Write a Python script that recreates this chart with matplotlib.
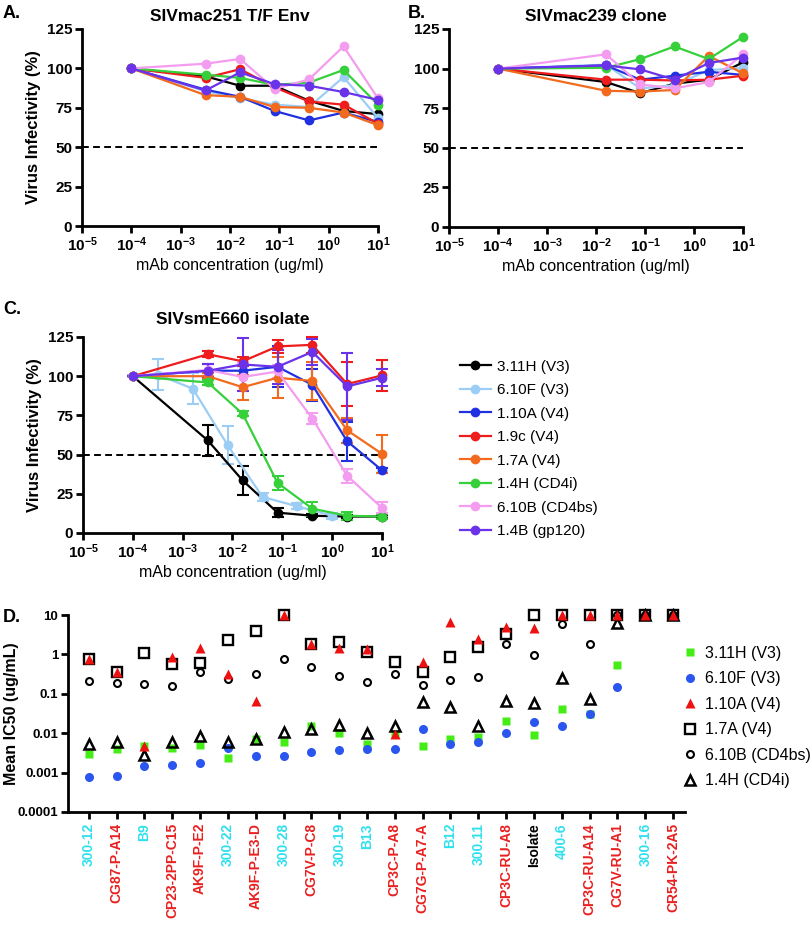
import numpy as np
import matplotlib
matplotlib.use('Agg')
import matplotlib.pyplot as plt
from matplotlib.lines import Line2D
from matplotlib.ticker import NullLocator

plt.rcParams['font.family'] = ['Liberation Sans', 'DejaVu Sans']
plt.rcParams['mathtext.fontset'] = 'custom'
plt.rcParams['mathtext.rm'] = 'Liberation Sans:bold'
plt.rcParams['mathtext.default'] = 'rm'

# ---------------- data: panels A-C ----------------
mabs = ['3.11H (V3)', '6.10F (V3)', '1.10A (V4)', '1.9c (V4)', '1.7A (V4)',
        '1.4H (CD4i)', '6.10B (CD4bs)', '1.4B (gp120)']
mab_colors = ['#000000', '#9ccdf4', '#2130e0', '#ee1c1c', '#f26a1e',
              '#35d03a', '#f49cf0', '#6a33ea']

conc = [1e-4, 0.0032, 0.016, 0.08, 0.4, 2, 10]
conc_b = [1e-4, 0.016, 0.08, 0.4, 2, 10]
conc_c_610f = [1e-4, 0.00032, 0.0016, 0.008, 0.04, 0.2, 1]

# Panel A: SIVmac251 T/F Env
a_311h = [100, 95, 89, 89, 79.5, 73, 71]
a_610f = [100, 85.5, 81, 77, 75.5, 94.5, 68.5]
a_110a = [100, 86.5, 82, 73, 67, 72, 66]
a_19c = [100, 94, 99.5, 88, 79, 77, 65]
a_17a = [100, 83, 82, 75.5, 75, 72, 64]
a_14h = [100, 96, 94, 89.5, 91, 99, 77]
a_610b = [100, 103, 106, 87, 93, 114, 81]
a_14b = [100, 86, 97.5, 90, 89, 85, 80]

# Panel B: SIVmac239 clone
b_311h = [100, 91.5, 84.5, 90.5, 93, 104]
b_610f = [100, 102.5, 87.5, 89.5, 99, 100.5]
b_110a = [100, 102, 93, 95.5, 98, 96]
b_19c = [100, 93, 93, 92.5, 93, 95.5]
b_17a = [100, 86, 85.5, 86.5, 108, 97]
b_14h = [100, 100.5, 106, 114, 106, 120]
b_610b = [100, 109, 90, 87.5, 91.5, 109]
b_14b = [100, 102, 99.5, 93, 103.5, 107]

# Panel C: SIVsmE660 isolate (mean, error)
c_311h = [100, 59, 33.5, 13, 11, 10.5, 10.5]
c_311h_err = [0, 10, 9.5, 3, 1, 1, 1]
c_610f = [100, 101, 92, 56, 23, 17, 11]
c_610f_err = [0, 10, 10, 12, 2.5, 2, 2]
c_110a = [100, 103.5, 103.5, 106, 94.5, 58.5, 40]
c_110a_err = [0, 4, 3, 13, 10, 12.5, 1.5]
c_19c = [100, 114, 109.5, 119, 120, 95, 100.5]
c_19c_err = [0, 2, 3, 4, 5, 14, 10]
c_17a = [100, 100, 93, 99, 97, 65.5, 50.5]
c_17a_err = [0, 2, 8, 13, 12, 8, 12]
c_14h = [100, 96, 76, 32, 15.5, 11, 10.5]
c_14h_err = [0, 1.5, 1.5, 4.5, 4.5, 2.5, 1.5]
c_610b = [100, 104, 99.5, 103, 73, 36.5, 16]
c_610b_err = [0, 4, 9, 4, 3.5, 4.5, 3.5]
c_14b = [100, 103.5, 107.5, 106, 115.5, 93.5, 99]
c_14b_err = [0, 4, 17, 11, 8.5, 21.5, 5.5]

# ---------------- data: panel D ----------------
viruses = ['300-12', 'CG87-P-A14', 'B9', 'CP23-2PP-C15', 'AK9F-P-E2', '300-22',
           'AK9F-P-E3-D', '300-28', 'CG7V-P-C8', '300-19', 'B13', 'CP3C-P-A8',
           'CG7G-P-A7-A', 'B12', '300.11', 'CP3C-RU-A8', 'Isolate', '400-6',
           'CP3C-RU-A14', 'CG7V-RU-A1', '300-16', 'CR54-PK-2A5']
virus_colors = ['#2fe0ee', '#e82020', '#2fe0ee', '#e82020', '#e82020', '#2fe0ee',
                '#e82020', '#2fe0ee', '#e82020', '#2fe0ee', '#2fe0ee', '#e82020',
                '#e82020', '#2fe0ee', '#2fe0ee', '#e82020', '#000000', '#2fe0ee',
                '#e82020', '#e82020', '#2fe0ee', '#e82020']
nan = np.nan
ic50_311h = [0.003, 0.004, 0.0046, 0.0042, 0.005, 0.0024, 0.007, 0.006, 0.0156, 0.01,
             0.0052, 0.0095, 0.0048, 0.007, 0.0082, 0.02, 0.009, 0.041, 0.03, 0.54, nan, nan]
ic50_610f = [0.00076, 0.00084, 0.00143, 0.0016, 0.0018, 0.0042, 0.0026, 0.0027, 0.0034,
             0.0038, 0.004, 0.004, 0.0129, 0.0052, 0.0061, 0.01, 0.0197, 0.0148, 0.031,
             0.145, nan, nan]
ic50_110a = [0.77, 0.35, 0.0046, 0.88, 1.43, 0.31, 0.066, 9.8, 1.8, 1.43, 1.35, 0.0098,
             0.66, 6.8, 2.4, 5.1, 4.7, 9.8, 9.8, 9.8, 9.8, 9.8]
ic50_17a = [0.77, 0.35, 1.07, 0.56, 0.61, 2.28, 4.0, 9.8, 1.8, 2.03, 1.17, 0.63,
            0.35, 0.88, 1.57, 3.24, 9.8, 9.8, 9.8, 9.8, 9.8, 9.8]
ic50_610b = [0.216, 0.19, 0.178, 0.155, 0.36, 0.24, 0.31, 0.77, 0.49, 0.28, 0.196, 0.325,
             0.168, 0.225, 0.27, 1.8, 0.97, 5.8, 1.8, 9.8, 9.8, 9.8]
ic50_14h = [0.0053, 0.0061, 0.0028, 0.0061, 0.0085, 0.0059, 0.0072, 0.0105, 0.0129, 0.016,
            0.01, 0.0153, 0.061, 0.047, 0.0156, 0.067, 0.06, 0.25, 0.073, 6.1, 9.8, 9.8]

# ---------------- figure ----------------
W, H = 810, 925
fig = plt.figure(figsize=(W / 100, H / 100), dpi=100)


def add_ax(l, t, r, b):
    return fig.add_axes([l / W, 1 - b / H, (r - l) / W, (b - t) / H])


def style_dose(ax, title, ylabel=True, tpad=6):
    ax.set_xscale('log')
    ax.set_xlim(1e-5, 10)
    ax.set_ylim(0, 125)
    ax.set_xticks([1e-5, 1e-4, 1e-3, 1e-2, 1e-1, 1, 10])
    ax.set_xticklabels(['10$^{-5}$', '10$^{-4}$', '10$^{-3}$', '10$^{-2}$',
                        '10$^{-1}$', '10$^{0}$', '10$^{1}$'])
    ax.xaxis.set_minor_locator(NullLocator())
    ax.set_yticks([0, 25, 50, 75, 100, 125])
    ax.axhline(50, color='black', ls=(0, (3.5, 2.2)), lw=1.4, zorder=1)
    for s in ['top', 'right']:
        ax.spines[s].set_visible(False)
    for s in ['left', 'bottom']:
        ax.spines[s].set_linewidth(2)
    ax.tick_params(width=2, length=5, labelsize=11, pad=2)
    for lab in ax.get_xticklabels() + ax.get_yticklabels():
        lab.set_fontweight('bold')
    ax.set_xlabel('mAb concentration (ug/ml)', fontsize=11.5, labelpad=3)
    if ylabel:
        ax.set_ylabel('Virus Infectivity (%)', fontsize=12, fontweight='bold', labelpad=4)
    ax.set_title(title, fontsize=12.5, fontweight='bold', pad=tpad)


# Panel A
axA = add_ax(82, 29, 378, 226)
for ys, c in zip([a_311h, a_610f, a_110a, a_19c, a_17a, a_14h, a_610b, a_14b], mab_colors):
    axA.plot(conc, ys, '-o', color=c, lw=1.6, ms=6, clip_on=False, zorder=3)
style_dose(axA, 'SIVmac251 T/F Env', tpad=6)

# Panel B
axB = add_ax(449, 29, 743, 227)
for ys, c in zip([b_311h, b_610f, b_110a, b_19c, b_17a, b_14h, b_610b, b_14b], mab_colors):
    axB.plot(conc_b, ys, '-o', color=c, lw=1.6, ms=6, clip_on=False, zorder=3)
style_dose(axB, 'SIVmac239 clone', ylabel=False, tpad=6)

# Panel C
axC = add_ax(83, 337, 382, 533)
c_series = [(conc, c_311h, c_311h_err), (conc_c_610f, c_610f, c_610f_err),
            (conc, c_110a, c_110a_err), (conc, c_19c, c_19c_err),
            (conc, c_17a, c_17a_err), (conc, c_14h, c_14h_err),
            (conc, c_610b, c_610b_err), (conc, c_14b, c_14b_err)]
handles = []
for (xs, ys, es), c, lab in zip(c_series, mab_colors, mabs):
    axC.errorbar(xs, ys, yerr=es, color=c, lw=1.6, ms=6, fmt='-o', capsize=4,
                 elinewidth=1.5, capthick=1.5, clip_on=False, zorder=3)
    handles.append(Line2D([], [], color=c, lw=1.6, marker='o', ms=6, label=lab))
style_dose(axC, 'SIVsmE660 isolate', tpad=9)
fig.legend(handles=handles, loc='center left', bbox_to_anchor=(460 / W, 1 - 449 / H),
           frameon=False, fontsize=11, handlelength=2.0, handletextpad=0.4,
           labelspacing=0.62, borderpad=0, borderaxespad=0)

# Panel D
axD = add_ax(68, 615, 685, 812)
xD = np.arange(len(viruses))
axD.plot(xD, ic50_17a, ls='none', marker='s', ms=7.5, mfc='none', mec='black', mew=1.7, clip_on=False, zorder=3)
axD.plot(xD, ic50_110a, ls='none', marker='^', ms=6.5, color='#ee1111', mec='none', clip_on=False, zorder=4)
axD.plot(xD, ic50_610b, ls='none', marker='o', ms=5, mfc='none', mec='black', mew=1.5, clip_on=False, zorder=3)
axD.plot(xD, ic50_14h, ls='none', marker='^', ms=7, mfc='none', mec='black', mew=1.8, clip_on=False, zorder=3)
axD.plot(xD, ic50_311h, ls='none', marker='s', ms=6, color='#44ee14', mec='none', clip_on=False, zorder=2)
axD.plot(xD, ic50_610f, ls='none', marker='o', ms=6.5, color='#2a55ee', mec='none', clip_on=False, zorder=2)
axD.set_yscale('log')
axD.set_ylim(1e-4, 10)
axD.set_xlim(-0.75, 21.43)
axD.set_yticks([1e-4, 1e-3, 1e-2, 1e-1, 1, 10])
axD.set_yticklabels(['0.0001', '0.001', '0.01', '0.1', '1', '10'])
axD.yaxis.set_minor_locator(NullLocator())
axD.set_xticks(xD)
axD.set_xticklabels(viruses, rotation=90, fontsize=10, fontweight='bold')
for lab, col in zip(axD.get_xticklabels(), virus_colors):
    lab.set_color(col)
for s in ['top', 'right']:
    axD.spines[s].set_visible(False)
for s in ['left', 'bottom']:
    axD.spines[s].set_linewidth(2)
axD.tick_params(width=2, length=5, pad=2)
axD.tick_params(axis='y', labelsize=9.5)
axD.tick_params(axis='x', labelsize=10, pad=3)
for lab in axD.get_yticklabels():
    lab.set_fontweight('bold')
axD.set_ylabel('Mean IC50 (ug/mL)', fontsize=11.5, fontweight='bold')
axD.yaxis.set_label_coords((19 - 68) / 617, 0.5)

hD = [Line2D([], [], ls='none', marker='s', ms=6, color='#44ee14', mec='none', label='3.11H (V3)'),
      Line2D([], [], ls='none', marker='o', ms=6.5, color='#2a55ee', mec='none', label='6.10F (V3)'),
      Line2D([], [], ls='none', marker='^', ms=6.5, color='#ee1111', mec='none', label='1.10A (V4)'),
      Line2D([], [], ls='none', marker='s', ms=7.5, mfc='none', mec='black', mew=1.7, label='1.7A (V4)'),
      Line2D([], [], ls='none', marker='o', ms=5, mfc='none', mec='black', mew=1.5, label='6.10B (CD4bs)'),
      Line2D([], [], ls='none', marker='^', ms=7, mfc='none', mec='black', mew=1.8, label='1.4H (CD4i)')]
fig.legend(handles=hD, loc='center left', bbox_to_anchor=(684 / W, 1 - 717 / H),
           frameon=False, fontsize=11.5, handlelength=0.8, handletextpad=0.5,
           labelspacing=0.66, borderpad=0, borderaxespad=0)

# Panel letters
for txt, x, y in [('A.', 3, 13), ('B.', 408, 13), ('C.', 3, 310), ('D.', 3, 618)]:
    fig.text(x / W, 1 - y / H, txt, fontsize=13, fontweight='bold', va='center', ha='left')

fig.savefig('out.png', dpi=100)
